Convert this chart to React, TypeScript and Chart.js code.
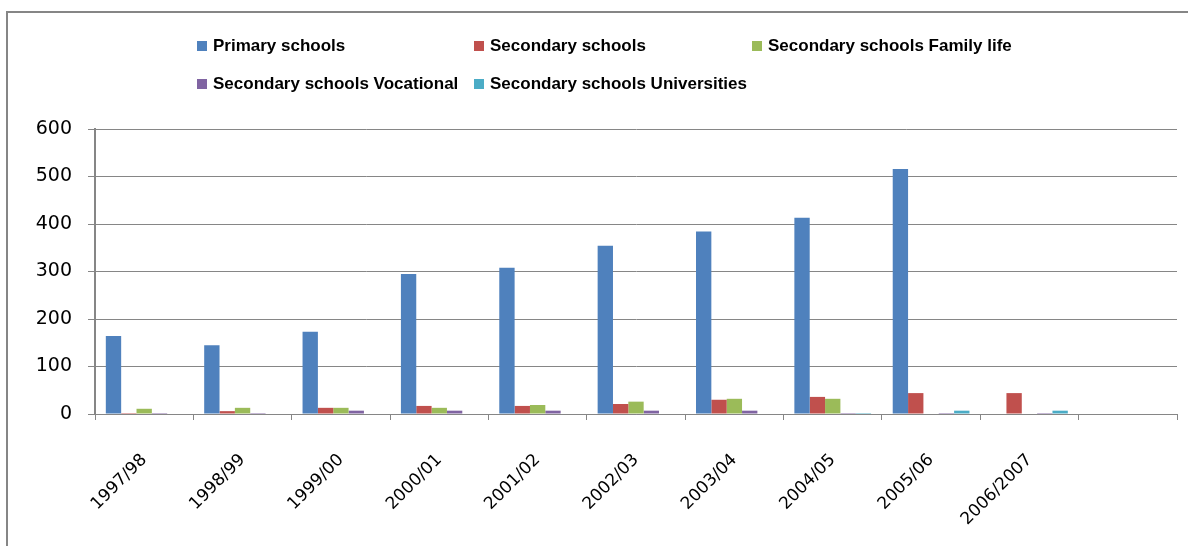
import React, { useEffect, useRef } from "react";
import { Chart, registerables } from "chart.js";

Chart.register(...registerables);

const categories = ["1997/98", "1998/99", "1999/00", "2000/01", "2001/02", "2002/03", "2003/04", "2004/05", "2005/06", "2006/2007", ""];
const primarySchools = [164, 145, 173, 295, 308, 354, 384, 413, 516, 0, null];
const secondarySchools = [2, 6, 13, 17, 17, 21, 30, 36, 44, 44, null];
const familyLife = [11, 13, 13, 13, 19, 26, 32, 32, 0, 0, null];
const vocational = [2, 2, 7, 7, 7, 7, 7, 2, 2, 2, null];
const universities = [0, 0, 0, 0, 0, 0, 0, 2, 7, 7, null];
const yTicks = [0, 100, 200, 300, 400, 500, 600];

const seriesNames = [
  "Primary schools",
  "Secondary schools",
  "Secondary schools Family life",
  "Secondary schools Vocational",
  "Secondary schools Universities",
];
const seriesColors = ["#4F81BD", "#C0504D", "#9BBB59", "#8064A2", "#4BACC6"];
const seriesValues = [primarySchools, secondarySchools, familyLife, vocational, universities];

const legendPos = [
  { left: 197, top: 46 },
  { left: 474, top: 46 },
  { left: 752, top: 46 },
  { left: 197, top: 84 },
  { left: 474, top: 84 },
];

export default function App() {
  const ref = useRef<HTMLCanvasElement>(null);
  useEffect(() => {
    const chart = new Chart(ref.current!, {
      type: "bar",
      data: {
        labels: categories,
        datasets: seriesNames.map((name, i) => ({
          label: name,
          data: seriesValues[i],
          backgroundColor: seriesColors[i],
          borderWidth: 0,
          categoryPercentage: 0.78,
          barPercentage: 1,
        })),
      },
      options: {
        responsive: false,
        maintainAspectRatio: false,
        animation: false,
        layout: { padding: { top: 129, right: 11, left: 0, bottom: 0 } },
        plugins: { legend: { display: false }, tooltip: { enabled: false } },
        scales: {
          x: {
            grid: { offset: true, drawOnChartArea: false, color: "#868686", tickLength: 6, lineWidth: 1 },
            border: { color: "#868686", width: 1 },
            ticks: {
              minRotation: 45,
              maxRotation: 45,
              autoSkip: false,
              color: "#000",
              padding: 30,
              font: { family: "DejaVu Sans", size: 17 },
            },
            afterFit: (s: any) => {
              s.height = 132;
            },
          },
          y: {
            min: 0,
            max: 600,
            afterBuildTicks: (s: any) => {
              s.ticks = yTicks.map((v) => ({ value: v }));
            },
            ticks: { color: "#000", padding: 16, font: { family: "DejaVu Sans", size: 19 } },
            grid: { color: "#868686", tickLength: 7, lineWidth: 1 },
            border: { color: "#868686", width: 2 },
            afterFit: (s: any) => {
              s.width = 95;
            },
          },
        },
      },
    });
    return () => chart.destroy();
  }, []);

  return (
    <div style={{ position: "absolute", left: 0, top: 0, width: 1188, height: 546, overflow: "hidden", background: "#fff" }}>
      <div style={{ position: "absolute", left: 6, top: 11, width: 1182, height: 2, background: "#868686" }} />
      <div style={{ position: "absolute", left: 6, top: 11, width: 2, height: 535, background: "#868686" }} />
      <canvas ref={ref} width={1188} height={546} style={{ position: "absolute", left: 0, top: 0, display: "block" }} />
      {seriesNames.map((name, i) => (
        <div
          key={name}
          style={{
            position: "absolute",
            left: legendPos[i].left,
            top: legendPos[i].top,
            transform: "translateY(-50%)",
            display: "flex",
            alignItems: "center",
            whiteSpace: "nowrap",
            fontFamily: "'Liberation Sans', Arial, sans-serif",
            fontWeight: "bold",
            fontSize: 17,
            color: "#000",
          }}
        >
          <span style={{ display: "inline-block", width: 10, height: 10, background: seriesColors[i], marginRight: 6 }} />
          <span>{name}</span>
        </div>
      ))}
    </div>
  );
}
